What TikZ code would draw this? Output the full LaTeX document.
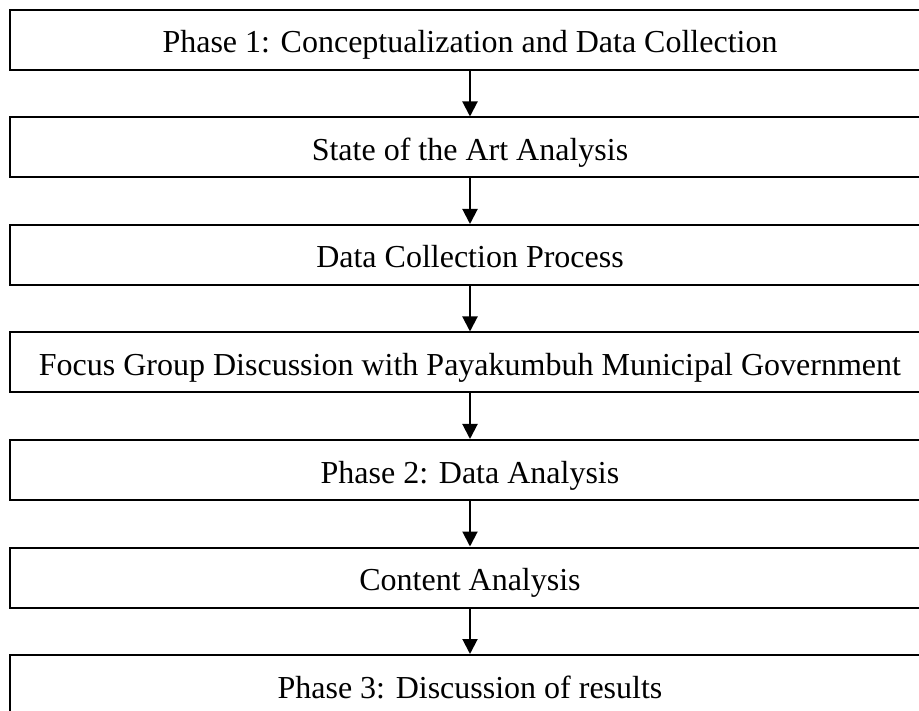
\documentclass[tikz,border=0pt]{standalone}
\usepackage{fontspec}
\setmainfont{Liberation Serif}
\usetikzlibrary{arrows.meta}
\begin{document}
\begin{tikzpicture}[x=1pt,y=-1pt,
    phase/.style={rectangle,draw,line width=2pt,minimum width=920pt,minimum height=60pt,
      inner sep=0pt,text height=26pt,text depth=0pt,font=\fontsize{32}{36}\selectfont},
    flow/.style={line width=2pt,-{Triangle[length=15pt,width=15pt]}}]
  \clip (0,0) rectangle (919,711);
  \node[phase] (p1) at (470,40) {Phase 1: Conceptualization and Data Collection};
  \node[phase] (p2) at (470,147.5) {State of the Art Analysis};
  \node[phase] (p3) at (470,255) {Data Collection Process};
  \node[phase] (p4) at (470,362.5) {Focus Group Discussion with Payakumbuh Municipal Government};
  \node[phase] (p5) at (470,470) {Phase 2: Data Analysis};
  \node[phase] (p6) at (470,577.5) {Content Analysis};
  \node[phase] (p7) at (470,685) {Phase 3: Discussion of results};
  \draw[flow] (p1) -- (p2);
  \draw[flow] (p2) -- (p3);
  \draw[flow] (p3) -- (p4);
  \draw[flow] (p4) -- (p5);
  \draw[flow] (p5) -- (p6);
  \draw[flow] (p6) -- (p7);
\end{tikzpicture}
\end{document}
